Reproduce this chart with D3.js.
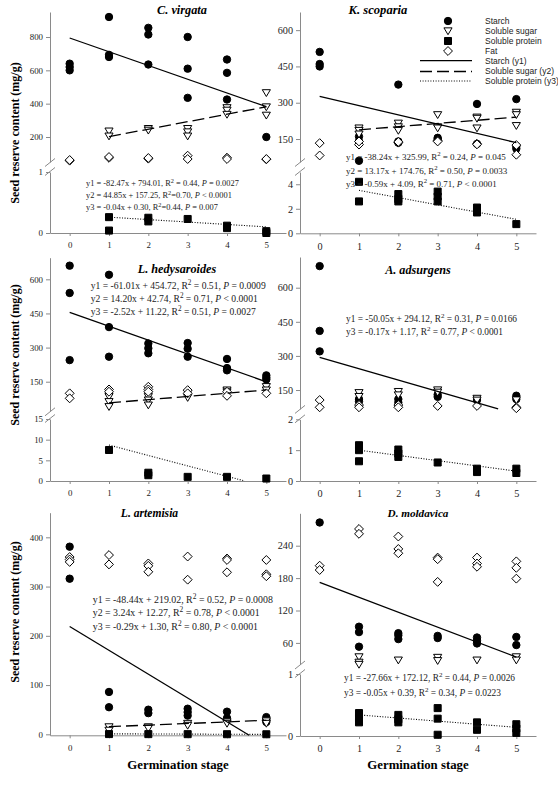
<!DOCTYPE html>
<html><head><meta charset="utf-8">
<script src="https://cdn.jsdelivr.net/npm/d3@7"></script>
<style>body{margin:0;background:#fff} svg{display:block}</style>
</head><body>
<svg id="chart" width="558" height="785"></svg>
<script>
// ---------- DATA ----------
const stages = [0, 1, 2, 3, 4, 5];
const xTicks = [0, 1, 2, 3, 4, 5];

// C. virgata (values per stage, replicates)
const cvStarch  = [[640,620,600],[920,693,680],[855,815,635],[800,610,435],[665,585,425],[200]];
const cvSugar   = [[],[235,205],[250,240],[250,230,205],[375,360,335],[465,380,330]];
const cvProtein = [[],[0.26,0.04],[0.25,0.19],[0.23],[0.12,0.08],[0.03,0.0]];
const cvFat     = [[58,62],[75,80],[70,74],[88,68],[76,68],[66,68]];
const cvTicks   = [[200,400,600,800],[0,1]];
const cvFits    = [["y1",-82.47,794.01,"0.44","=","0.0027"],["y2",44.85,157.25,"0.70","<","0.0001"],["y3",-0.04,0.30,"0.44","=","0.007"]];

// K. scoparia
const ksStarch  = [[510,460,450],[160,140,60],[375,140,135],[155,150,145],[295,130],[315,120,110]];
const ksSugar   = [[],[195,185,170],[215,200,185],[250,200,195],[240,235,195],[260,250,205]];
const ksProtein = [[],[4.2,2.6],[3.2,2.8,2.6],[3.4,3.0,2.6],[2.1,1.7],[0.75]];
const ksFat     = [[133,82],[127,140],[135,138],[143,140],[130,128],[125,85]];
const ksTicks   = [[150,300,450,600],[0,2,4]];
const ksFits    = [["y1",-38.24,325.99,"0.24","=","0.045"],["y2",13.17,174.76,"0.50","=","0.0033"],["y3",-0.59,4.09,"0.71","<","0.0001"]];

// L. hedysaroides
const lhStarch  = [[660,540,245],[620,390,260],[318,297,275],[320,295,260],[250,210,200],[178,168,160]];
const lhSugar   = [[],[84,62,40],[84,69,47],[99,80],[113,105],[128,113]];
const lhProtein = [[],[7.5],[2.0,1.4],[1.0],[1.0],[0.6]];
const lhFat     = [[99,77],[116,106],[128,116,106],[113,99],[106,88],[99]];
const lhTicks   = [[150,300,450,600],[0,5,10,15]];
const lhFits    = [["y1",-61.01,454.72,"0.51","=","0.0009"],["y2",14.20,42.74,"0.71","<","0.0001"],["y3",-2.52,11.22,"0.51","=","0.0027"]];

// A. adsurgens
const aaStarch  = [[695,410,320],[110,100],[110,95],[130,120],[106],[125,110]];
const aaSugar   = [[],[138,121],[143,128],[150,140],[113,105],[106]];
const aaProtein = [[],[1.16,1.0,0.64],[1.02,0.89,0.78],[0.6],[0.4,0.29],[0.4,0.26]];
const aaFat     = [[106,74],[84,74],[84,74],[80],[80],[74,70]];
const aaTicks   = [[150,300,450,600],[0,1,2]];
const aaFits    = [["y1",-50.05,294.12,"0.31","=","0.0166"],["y3",-0.17,1.17,"0.77","<","0.0001"]];

// L. artemisia
const laStarch  = [[381,316],[86,55],[50,43],[52,45,38],[46,33],[35,30,25]];
const laSugar   = [[],[15,8],[15,12],[22,18],[25,22],[27,22]];
const laProtein = [[],[0.5],[0.4],[0.3],[0.2],[0.1]];
const laFat     = [[360,355,350],[364,345],[347,342,330],[361,314],[357,354,329],[354,325,321]];
const laTicks   = [[0,100,200,300,400]];
const laFits    = [["y1",-48.44,219.02,"0.52","=","0.0008"],["y2",3.24,12.27,"0.78","<","0.0001"],["y3",-0.29,1.30,"0.80","<","0.0001"]];

// D. moldavica
const dmStarch  = [[283],[90,80,53],[78,74,67],[73,69],[70,64,59],[71,56]];
const dmSugar   = [[],[34,24,20],[28],[33,27],[28],[34,28]];
const dmProtein = [[],[0.37,0.29,0.22],[0.34,0.27,0.22],[0.45,0.28,0.02],[0.22,0.10],[0.19,0.12,0.05]];
const dmFat     = [[203,195],[271,262],[257,234,226],[218,215,173],[218,207,201],[211,199,179]];
const dmTicks   = [[60,120,180,240],[0,1]];
const dmFits    = [["y1",-27.66,172.12,"0.44","=","0.0026"],["y3",-0.05,0.39,"0.34","=","0.0223"]];

const legendItems = ["Starch","Soluble sugar","Soluble protein","Fat","Starch (y1)","Soluble sugar (y2)","Soluble protein (y3)"];

// ---------- LAYOUT ----------
const panels = [
  {title:"C. virgata", col:0, axisY:233, tx:182, ty:10, ts:12.3, fs:8.9,
   segs:[{dom:[50,950], rng:[162,12]},{dom:[0,1], rng:[233,172]}],
   starch:cvStarch, sugar:cvSugar, protein:cvProtein, fat:cvFat, ticks:cvTicks, fits:cvFits,
   eq:{x:86, y:[186,198,210], fs:8.4, compact:[false,true,true]}},
  {title:"K. scoparia", col:1, axisY:233.3, tx:378, ty:10, ts:12.6, fs:10.2,
   segs:[{dom:[55,675], rng:[162,12]},{dom:[0,5], rng:[233.3,172]}],
   starch:ksStarch, sugar:ksSugar, protein:ksProtein, fat:ksFat, ticks:ksTicks, fits:ksFits,
   eq:{x:346, y:[160,173.5,187], fs:9.0, compact:[false,false,false]}},
  {title:"L. hedysaroides", col:0, axisY:481, tx:177, ty:269, ts:12.2, fs:8.9,
   segs:[{dom:[20,695], rng:[411.3,257.7]},{dom:[0,15], rng:[481,419]}],
   starch:lhStarch, sugar:lhSugar, protein:lhProtein, fat:lhFat, ticks:lhTicks, fits:lhFits,
   eq:{x:90.7, y:[289,302,315], fs:9.6, compact:[false,false,false]}},
  {title:"A. adsurgens", col:1, axisY:481, tx:418, ty:270, ts:12.2, fs:10.2,
   segs:[{dom:[67,735], rng:[408.9,257]},{dom:[0,2], rng:[481,419.3]}],
   starch:aaStarch, sugar:aaSugar, protein:aaProtein, fat:aaFat, ticks:aaTicks, fits:aaFits,
   eq:{x:346, y:[322,335], fs:9.4, compact:[false,false]}},
  {title:"L. artemisia", col:0, axisY:735.3, tx:149.5, ty:512.7, ts:11.6, fs:8.9,
   segs:[{dom:[-2,450], rng:[735.3,512.7]}],
   starch:laStarch, sugar:laSugar, protein:laProtein, fat:laFat, ticks:laTicks, fits:laFits,
   eq:{x:92.7, y:[602.5,616,630], fs:9.9, compact:[false,false,false]}},
  {title:"D. moldavica", col:1, axisY:736, tx:418, ty:512.7, ts:11.2, fs:10.2,
   segs:[{dom:[20,300], rng:[664.5,513.3]},{dom:[0,1], rng:[736,674]}],
   starch:dmStarch, sugar:dmSugar, protein:dmProtein, fat:dmFat, ticks:dmTicks, fits:dmFits,
   eq:{x:344, y:[681,696], fs:9.4, compact:[false,false]}}
];
const colX = [[50,286],[300,536]];
const AXIS_COL = "#8a8a8a";
const TEXT_COL = "#222";
const SERIF = "'Liberation Serif','Times New Roman',serif";
const SANS = "'Liberation Sans',Arial,sans-serif";
const fmt = d => String(d);

const svg = d3.select("#chart");
svg.append("rect").attr("width",558).attr("height",785).attr("fill","#fff");

// marker path generators
const marker = {
  starch: s => `M${-s},0a${s},${s} 0 1,0 ${2*s},0a${s},${s} 0 1,0 ${-2*s},0Z`,
  sugar:  s => `M${-s*1.1},${-s*0.85}L${s*1.1},${-s*0.85}L0,${s}Z`,
  protein:s => `M${-s*0.95},${-s*0.95}H${s*0.95}V${s*0.95}H${-s*0.95}Z`,
  fat:    s => `M0,${-s*1.2}L${s*1.2},0L0,${s*1.2}L${-s*1.2},0Z`
};
const mSize = 3.7;
function drawMarker(g, kind, x, y) {
  g.append("path").attr("d", marker[kind](mSize)).attr("transform", `translate(${x},${y})`)
    .attr("fill", (kind==="starch"||kind==="protein") ? "#000" : "#fff")
    .attr("stroke", "#000").attr("stroke-width", 1);
}
const lineStyle = {
  y1: {dash: null, w: 1.3},
  y2: {dash: "12,5", w: 1.3},
  y3: {dash: "1,1.6", w: 1.1}
};

panels.forEach(p => {
  const g = svg.append("g");
  const x = d3.scaleLinear().domain([-0.5, 5.5]).range(colX[p.col]);
  const scales = p.segs.map(s => d3.scaleLinear().domain(s.dom).range(s.rng));
  const upper = scales[0];
  const lower = scales[scales.length - 1];
  const segFor = kind => (kind === "protein" || kind === "y3") ? lower : upper;

  // y axes (segments)
  scales.forEach((sc, i) => {
    const ax = g.append("g").attr("transform", `translate(${colX[p.col][0]},0)`)
      .call(d3.axisLeft(sc).tickValues(p.ticks[i]).tickFormat(fmt).tickSize(4).tickSizeOuter(0).tickPadding(3));
    ax.select(".domain").attr("stroke", AXIS_COL);
    ax.selectAll(".tick line").attr("stroke", AXIS_COL);
    ax.selectAll("text").attr("fill", TEXT_COL).style("font-family", SERIF).style("font-size", p.fs + "px");
  });
  // break marks
  if (scales.length === 2) {
    const ax0 = colX[p.col][0];
    [p.segs[0].rng[0] + 0.5, p.segs[1].rng[1] - 0.5].forEach(yb => {
      g.append("line").attr("x1", ax0 - 5).attr("y1", yb + 4).attr("x2", ax0 + 5).attr("y2", yb - 4)
        .attr("stroke", AXIS_COL).attr("stroke-width", 1);
    });
  }
  // x axis
  const xa = g.append("g").attr("transform", `translate(0,${p.axisY})`)
    .call(d3.axisBottom(x).tickValues(xTicks).tickFormat(fmt).tickSize(3).tickSizeOuter(0).tickPadding(6));
  xa.select(".domain").attr("stroke", AXIS_COL);
  xa.selectAll(".tick line").attr("stroke", AXIS_COL);
  xa.selectAll("text").attr("fill", TEXT_COL).style("font-family", SERIF).style("font-size", p.fs + "px");

  // points
  ["starch", "sugar", "protein", "fat"].forEach(kind => {
    const sc = segFor(kind);
    p[kind].forEach((vals, i) => vals.forEach(v => drawMarker(g, kind, x(stages[i]), sc(v))));
  });

  // regression lines
  const seriesOf = {y1: "starch", y2: "sugar", y3: "protein"};
  p.fits.forEach(f => {
    const [name, a, b] = f;
    const data = p[seriesOf[name]];
    const present = stages.filter((s, i) => data[i].length > 0);
    let x0 = d3.min(present), x1 = d3.max(present);
    const sc = segFor(name);
    const [lo, hi] = sc.domain();
    if (a < 0) { x1 = Math.min(x1, (lo - b) / a); x0 = Math.max(x0, (hi - b) / a); }
    else if (a > 0) { x1 = Math.min(x1, (hi - b) / a); x0 = Math.max(x0, (lo - b) / a); }
    const st = lineStyle[name];
    g.append("line").attr("x1", x(x0)).attr("y1", sc(a * x0 + b)).attr("x2", x(x1)).attr("y2", sc(a * x1 + b))
      .attr("stroke", "#000").attr("stroke-width", st.w).attr("stroke-dasharray", st.dash);
  });

  // equations
  p.fits.forEach((f, i) => {
    const [name, a, b, r2, op, pv] = f;
    const compact = p.eq.compact[i];
    const t = g.append("text").attr("x", p.eq.x).attr("y", p.eq.y[i]).attr("fill", TEXT_COL)
      .style("font-family", SERIF).style("font-size", p.eq.fs + "px");
    t.append("tspan").text(`${name} = ${a.toFixed(2)}x + ${b.toFixed(2)}, R`);
    t.append("tspan").attr("dy", -p.eq.fs * 0.4).style("font-size", (p.eq.fs * 0.75) + "px").text("2");
    t.append("tspan").attr("dy", p.eq.fs * 0.4).text(compact ? `=${r2}, ` : ` = ${r2}, `);
    t.append("tspan").style("font-style", "italic").text("P");
    t.append("tspan").text(` ${op} ${pv}`);
  });

  // title
  g.append("text").attr("x", p.tx).attr("y", p.ty).attr("dy", "0.35em").attr("text-anchor", "middle")
    .style("font-family", SERIF).style("font-size", p.ts + "px").style("font-weight", "bold").style("font-style", "italic")
    .text(p.title);
});

// y axis labels (left column)
[133, 355, 612].forEach(cy => {
  svg.append("text").attr("transform", `translate(15,${cy}) rotate(-90)`).attr("text-anchor", "middle").attr("dy", "0.35em")
    .style("font-family", SERIF).style("font-size", "12px").style("font-weight", "bold")
    .text("Seed reserve content (mg/g)");
});
// x axis labels
[178, 418].forEach(cx => {
  svg.append("text").attr("x", cx).attr("y", 765).attr("dy", "0.35em").attr("text-anchor", "middle")
    .style("font-family", SERIF).style("font-size", "12.8px").style("font-weight", "bold")
    .text("Germination stage");
});

// legend
const lg = svg.append("g");
const legRows = [21, 31, 41, 51, 60.7, 71.5, 81];
const legKinds = ["starch", "sugar", "protein", "fat"];
legendItems.forEach((label, i) => {
  const y = legRows[i];
  if (i < 4) drawMarker(lg, legKinds[i], 448, y);
  else {
    const st = lineStyle[["y1", "y2", "y3"][i - 4]];
    lg.append("line").attr("x1", 420).attr("x2", 472).attr("y1", y).attr("y2", y)
      .attr("stroke", "#000").attr("stroke-width", st.w).attr("stroke-dasharray", st.dash);
  }
  lg.append("text").attr("x", 485).attr("y", y).attr("dy", "0.35em").attr("fill", TEXT_COL)
    .style("font-family", SANS).style("font-size", "8.5px").text(label);
});
</script>
</body></html>
